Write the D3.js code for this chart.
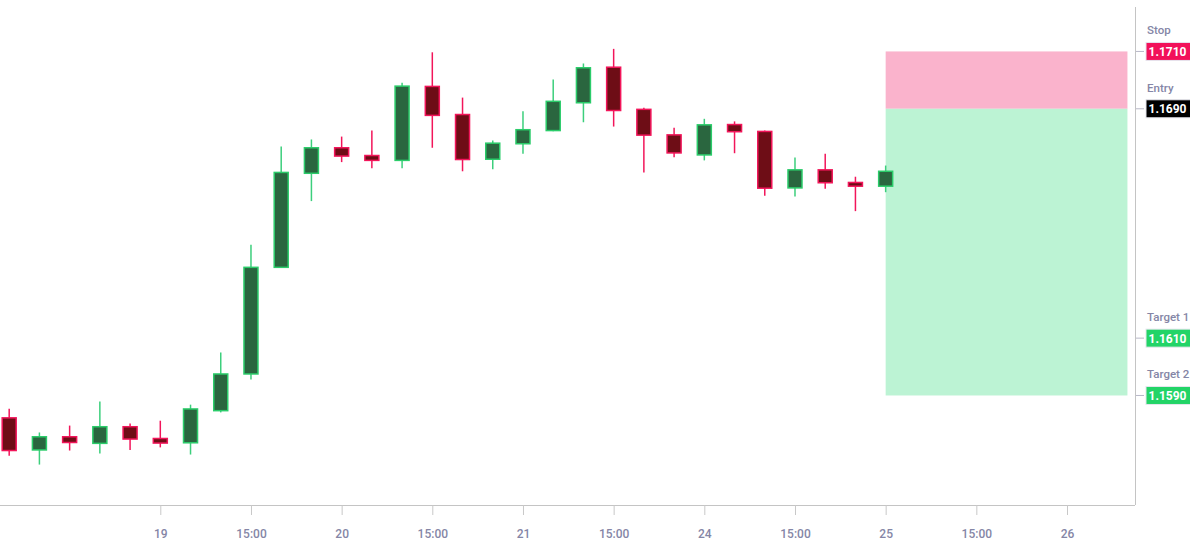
<!DOCTYPE html>
<html>
<head>
<meta charset="utf-8">
<script src="https://cdn.jsdelivr.net/npm/d3@7"></script>
<style>
  html, body { margin: 0; padding: 0; background: #fff; }
  text { font-family: Roboto, "Noto Sans", sans-serif; }
</style>
</head>
<body>
<div id="trade-chart"></div>
<script>
// Candle data (4h bars, index on x)
var opens  = [1.15822, 1.15710, 1.15756, 1.15733, 1.15791, 1.15750, 1.15735, 1.15847, 1.15975, 1.16347,
              1.16675, 1.16764, 1.16737, 1.16720, 1.16978, 1.16880, 1.16724, 1.16778, 1.16824, 1.16921,
              1.17045, 1.16898, 1.16809, 1.16739, 1.16845, 1.16821, 1.16624, 1.16687, 1.16643, 1.16630];
var highs  = [1.15854, 1.15771, 1.15795, 1.15879, 1.15802, 1.15812, 1.15868, 1.16050, 1.16426, 1.16768,
              1.16793, 1.16803, 1.16824, 1.16991, 1.17097, 1.16939, 1.16789, 1.16891, 1.17002, 1.17058,
              1.17109, 1.16904, 1.16834, 1.16865, 1.16856, 1.16824, 1.16730, 1.16743, 1.16663, 1.16702];
var lows   = [1.15690, 1.15659, 1.15708, 1.15698, 1.15710, 1.15719, 1.15694, 1.15841, 1.15956, 1.16345,
              1.16578, 1.16714, 1.16693, 1.16693, 1.16764, 1.16682, 1.16689, 1.16743, 1.16822, 1.16853,
              1.16838, 1.16678, 1.16731, 1.16720, 1.16745, 1.16597, 1.16594, 1.16621, 1.16543, 1.16609];
var closes = [1.15708, 1.15756, 1.15736, 1.15791, 1.15748, 1.15734, 1.15853, 1.15975, 1.16347, 1.16678,
              1.16764, 1.16735, 1.16720, 1.16979, 1.16877, 1.16723, 1.16780, 1.16827, 1.16926, 1.17043,
              1.16894, 1.16808, 1.16746, 1.16844, 1.16820, 1.16623, 1.16687, 1.16642, 1.16630, 1.16682];

// X axis ticks (bar index) and their labels
var tickIdx = [5, 8, 11, 14, 17, 20, 23, 26, 29, 32, 35];
var tickLabels = ["19", "15:00", "20", "15:00", "21", "15:00", "24", "15:00", "25", "15:00", "26"];

// Trade levels
var levelNames = ["Stop", "Entry", "Target 1", "Target 2"];
var levelPrices = [1.1710, 1.1690, 1.1610, 1.1590];
var boxStart = 29, boxEnd = 37;

// Visible ranges
var xDomain = [-0.304, 37.25];
var yDomain = [1.15518, 1.17255];

var levelColor = {"Stop": "#f2115a", "Entry": "#000000", "Target 1": "#22d467", "Target 2": "#22d467"};

// Dimensions and margins
var margin = {top: 7, right: 55, bottom: 37, left: 0},
    width = 1190 - margin.left - margin.right,
    height = 542 - margin.top - margin.bottom;

var svg = d3.select("#trade-chart")
    .append("svg")
    .attr("width", 1190)
    .attr("height", 542)
    .append("g")
    .attr("transform", "translate(" + margin.left + "," + margin.top + ")");

var x = d3.scaleLinear().domain(xDomain).range([0, width]);
var y = d3.scaleLinear().domain(yDomain).range([height, 0]);

// Risk / reward box
svg.append("rect")
    .attr("x", x(boxStart))
    .attr("width", x(boxEnd) - x(boxStart))
    .attr("y", y(levelPrices[0]))
    .attr("height", y(levelPrices[1]) - y(levelPrices[0]))
    .attr("fill", "#fab3cc");

svg.append("rect")
    .attr("x", x(boxStart))
    .attr("width", x(boxEnd) - x(boxStart))
    .attr("y", y(levelPrices[1]))
    .attr("height", y(levelPrices[3]) - y(levelPrices[1]))
    .attr("fill", "#bcf3d4");

// Candles
var bars = opens.map(function (o, i) {
    return {i: i, o: o, h: highs[i], l: lows[i], c: closes[i], up: closes[i] >= o};
});

var candle = svg.selectAll("g.candle")
    .data(bars)
    .enter()
    .append("g")
    .attr("class", "candle");

candle.append("line")
    .attr("x1", function (d) { return x(d.i); })
    .attr("x2", function (d) { return x(d.i); })
    .attr("y1", function (d) { return y(d.h); })
    .attr("y2", function (d) { return y(d.l); })
    .attr("stroke", function (d) { return d.up ? "#3ccf7c" : "#f2155a"; })
    .attr("stroke-width", 1.5);

candle.append("rect")
    .attr("x", function (d) { return x(d.i) - 7; })
    .attr("width", 14)
    .attr("y", function (d) { return y(Math.max(d.o, d.c)); })
    .attr("height", function (d) { return Math.max(1, Math.abs(y(d.o) - y(d.c))); })
    .attr("fill", function (d) { return d.up ? "#2a663f" : "#6e0d16"; })
    .attr("stroke", function (d) { return d.up ? "#2bcc6a" : "#f2155a"; })
    .attr("stroke-width", 1.5);

// Bottom axis
var xAxis = svg.append("g")
    .attr("transform", "translate(0," + height + ")")
    .call(d3.axisBottom(x)
        .tickValues(tickIdx)
        .tickFormat(function (d, i) { return tickLabels[i]; })
        .tickSize(10)
        .tickPadding(14));

xAxis.select(".domain").attr("stroke", "#c4c4c4").attr("d", "M0,0.5H" + width);
xAxis.selectAll(".tick line").attr("stroke", "#c8c8c8");
xAxis.selectAll(".tick text")
    .attr("fill", "#8586a6")
    .style("font-size", "12px")
    .style("font-weight", "500");

// Right axis line
svg.append("line")
    .attr("x1", width + 0.5)
    .attr("x2", width + 0.5)
    .attr("y1", 0)
    .attr("y2", height)
    .attr("stroke", "#c4c4c4");

// Level labels on the right
var lvl = svg.selectAll("g.level")
    .data(levelNames.map(function (n, i) { return {name: n, price: levelPrices[i]}; }))
    .enter()
    .append("g")
    .attr("class", "level")
    .attr("transform", function (d) { return "translate(" + width + "," + y(d.price) + ")"; });

lvl.append("line")
    .attr("x1", 1).attr("x2", 9)
    .attr("stroke", "#b8b8c8");

lvl.append("text")
    .attr("x", 12)
    .attr("y", -17)
    .attr("fill", "#8586a6")
    .style("font-size", "11.5px")
    .style("font-weight", "500")
    .text(function (d) { return d.name; });

lvl.append("rect")
    .attr("x", 11)
    .attr("y", -9)
    .attr("width", 45)
    .attr("height", 18)
    .attr("fill", function (d) { return levelColor[d.name]; })
    .attr("stroke", "#e6e6ee")
    .attr("stroke-width", 1);

lvl.append("text")
    .attr("x", 32.5)
    .attr("y", 4.5)
    .attr("text-anchor", "middle")
    .attr("fill", "#fff")
    .style("font-size", "12px")
    .style("font-weight", "700")
    .text(function (d) { return d.price.toFixed(4); });
</script>
</body>
</html>
